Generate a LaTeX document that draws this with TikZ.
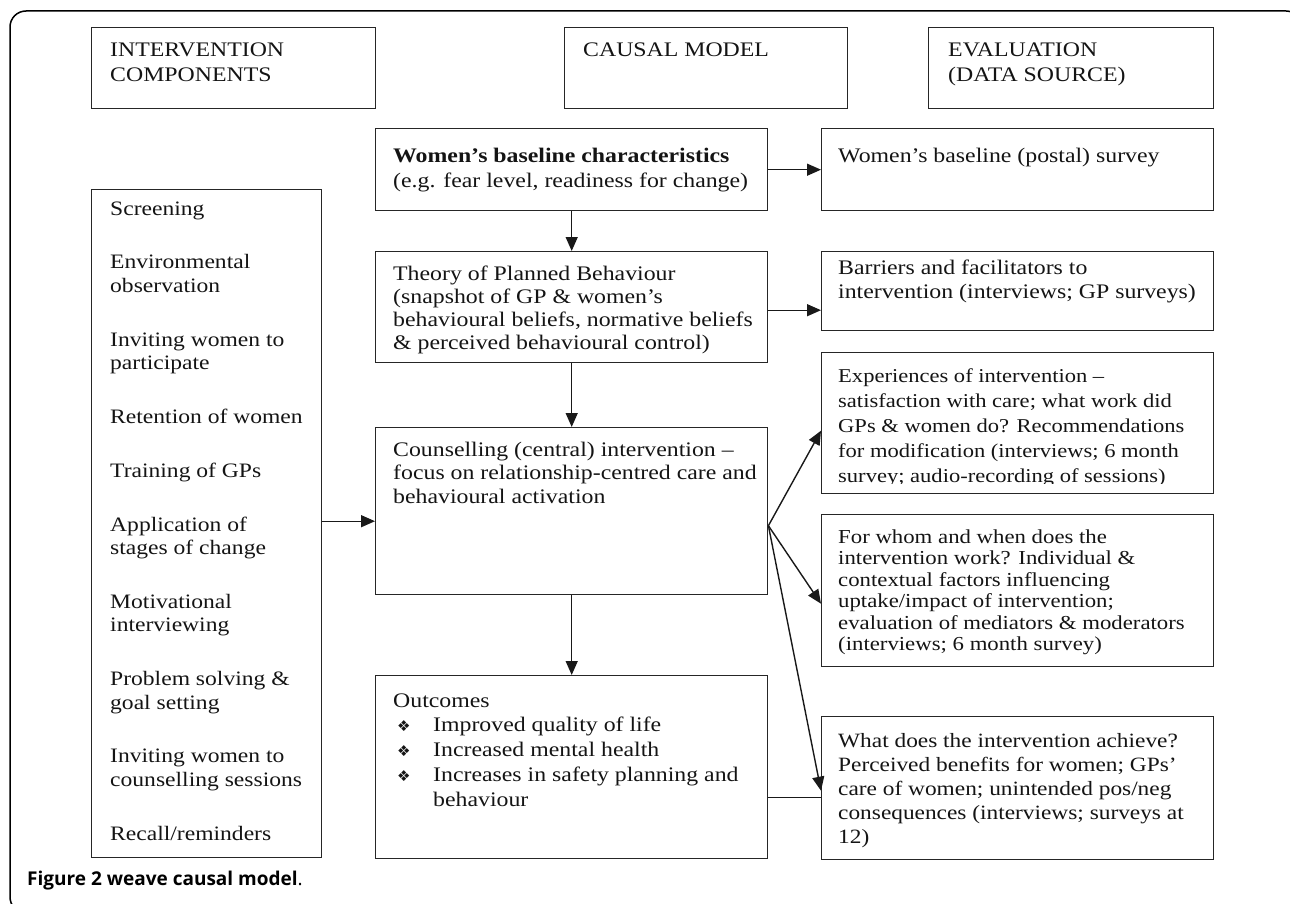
\documentclass[tikz,border=0pt]{standalone}
\usepackage{fontspec}
\setmainfont{Liberation Serif}[FakeStretch=1.15]
\newfontfamily\capfont{Open Sans}
\newfontfamily\dingfont{DejaVu Sans}
\usetikzlibrary{arrows.meta,calc}
\newcommand{\blk}[4]{\parbox[t]{#3}{\fontsize{#1}{#2}\selectfont\lineskiplimit=-100pt\raggedright #4}}
\newcommand{\bul}{\hspace*{4pt}\makebox[36pt][l]{\dingfont\fontsize{15}{15}\selectfont ❖}}
\begin{document}
\begin{tikzpicture}[x=1pt,y=-1pt,
  box/.style={draw=black!85, line width=1.4pt, anchor=north west, inner sep=0pt},
  txt/.style={anchor=base west, inner sep=0pt, text=black!92},
  arr/.style={draw=black!90, line width=1.4pt, -{Triangle[length=14pt,width=12pt]}},
  link/.style={draw=black!90, line width=1.4pt},
  frame/.style={draw=black, line width=1.5pt, rounded corners=16pt}]
\useasboundingbox (0,0) rectangle (1290,904);
\clip (0,0) rectangle (1290,904);
\draw[frame] (10,11) rectangle (1302,913);

% header boxes
\node[box, minimum width=284pt, minimum height=81pt] (hIC) at (91,27) {};
\node[txt] (tIC) at (110,57) {\blk{20.7}{25}{260pt}{INTERVENTION\\COMPONENTS}};
\node[box, minimum width=283pt, minimum height=81pt] (hCM) at (564,27) {};
\node[txt] (tCM) at (583,57) {\blk{20.7}{25}{260pt}{CAUSAL MODEL}};
\node[box, minimum width=285pt, minimum height=81pt] (hEV) at (928,27) {};
\node[txt] (tEV) at (948,57) {\blk{20.7}{25}{260pt}{EVALUATION\\(DATA SOURCE)}};

% intervention list
\node[box, minimum width=230pt, minimum height=668pt] (lst) at (91,189) {};
\node[txt] (tlst) at (110,215) {\blk{20.5}{23.5}{208pt}{Screening\\[30.3pt]
Environmental\\observation\\[30.3pt]
Inviting women to\\participate\\[30.3pt]
Retention of women\\[30.3pt]
Training of GPs\\[30.3pt]
Application of\\stages of change\\[30.3pt]
Motivational\\interviewing\\[30.3pt]
Problem solving \&\\goal setting\\[30.3pt]
Inviting women to\\counselling sessions\\[30.3pt]
Recall/reminders}};

% causal model column
\node[box, minimum width=392pt, minimum height=82pt] (wb) at (375,128) {};
\node[txt] (twb) at (393,163) {\blk{20.7}{25}{370pt}{\textbf{Women’s baseline characteristics}\\(e.g. fear level, readiness for change)}};
\node[box, minimum width=392pt, minimum height=111pt] (tpb) at (375,251) {};
\node[txt] (ttpb) at (393,280) {\blk{20.7}{23}{370pt}{Theory of Planned Behaviour\\(snapshot of GP \& women’s\\behavioural beliefs, normative beliefs\\\& perceived behavioural control)}};
\node[box, minimum width=392pt, minimum height=167pt] (coun) at (375,427) {};
\node[txt] (tcoun) at (393,456) {\blk{20.7}{23.5}{370pt}{Counselling (central) intervention –\\focus on relationship-centred care and\\behavioural activation}};
\node[box, minimum width=392pt, minimum height=183pt] (out) at (375,675) {};
\node[txt] (tout) at (393,707) {\blk{20.7}{24.75}{370pt}{Outcomes\\
\bul Improved quality of life\\
\bul Increased mental health\\
\bul Increases in safety planning and\\
\hspace*{40pt}behaviour}};

% evaluation column
\node[box, minimum width=392pt, minimum height=82pt] (ps) at (821,128) {};
\node[txt] (tps) at (838,163) {\blk{20.7}{25}{370pt}{Women’s baseline (postal) survey}};
\node[box, minimum width=392pt, minimum height=79pt] (bar) at (821,251) {};
\node[txt] (tbar) at (838,274) {\blk{20.7}{24}{370pt}{Barriers and facilitators to\\intervention (interviews; GP surveys)}};
\node[box, minimum width=392pt, minimum height=141pt] (exp) at (821,352) {};
\begin{scope}
\clip (822,353) rectangle (1212,483.5);
\node[txt] (texp) at (838,382) {\blk{19.6}{25}{370pt}{Experiences of intervention –\\satisfaction with care; what work did\\GPs \& women do? Recommendations\\for modification (interviews; 6 month\\survey; audio-recording of sessions)}};
\end{scope}
\node[box, minimum width=392pt, minimum height=152pt] (fw) at (821,514) {};
\node[txt] (tfw) at (838,543) {\blk{19.8}{21.5}{370pt}{For whom and when does the\\intervention work? Individual \&\\contextual factors influencing\\uptake/impact of intervention;\\evaluation of mediators \& moderators\\(interviews; 6 month survey)}};
\node[box, minimum width=392pt, minimum height=143pt] (wd) at (821,716) {};
\node[txt] (twd) at (838,747) {\blk{20.3}{24}{370pt}{What does the intervention achieve?\\Perceived benefits for women; GPs’\\care of women; unintended pos/neg\\consequences (interviews; surveys at\\12)}};

% connectors
\draw[arr] (wb.east) -- (wb.east -| ps.west);
\draw[arr] (wb.south) -- (tpb.north);
\draw[arr] ([yshift=-3pt]tpb.east) -- ([yshift=-3pt]tpb.east -| bar.west);
\draw[arr] (tpb.south) -- (coun.north);
\draw[arr] (coun.south) -- (out.north);
\draw[arr] (lst.east |- coun.east) ++(0,10) coordinate (lsa) (lsa) -- (lsa -| coun.west);
\coordinate (br) at ([yshift=-14.5pt]coun.east);
\draw[arr] (br) -- ([yshift=-7.5pt]exp.west);
\draw[arr] (br) -- ([yshift=-13pt]fw.west);
\draw[arr] (br) -- ([yshift=-2.5pt]wd.west);
\draw[link] ([yshift=-30.5pt]out.east) -- ([yshift=-30.5pt]out.east -| wd.west);

% caption
\node[anchor=base west, inner sep=0pt] (cap) at (27,885) {\capfont\fontsize{19}{22}\selectfont\textbf{Figure 2 weave causal model}.};
\end{tikzpicture}
\end{document}
